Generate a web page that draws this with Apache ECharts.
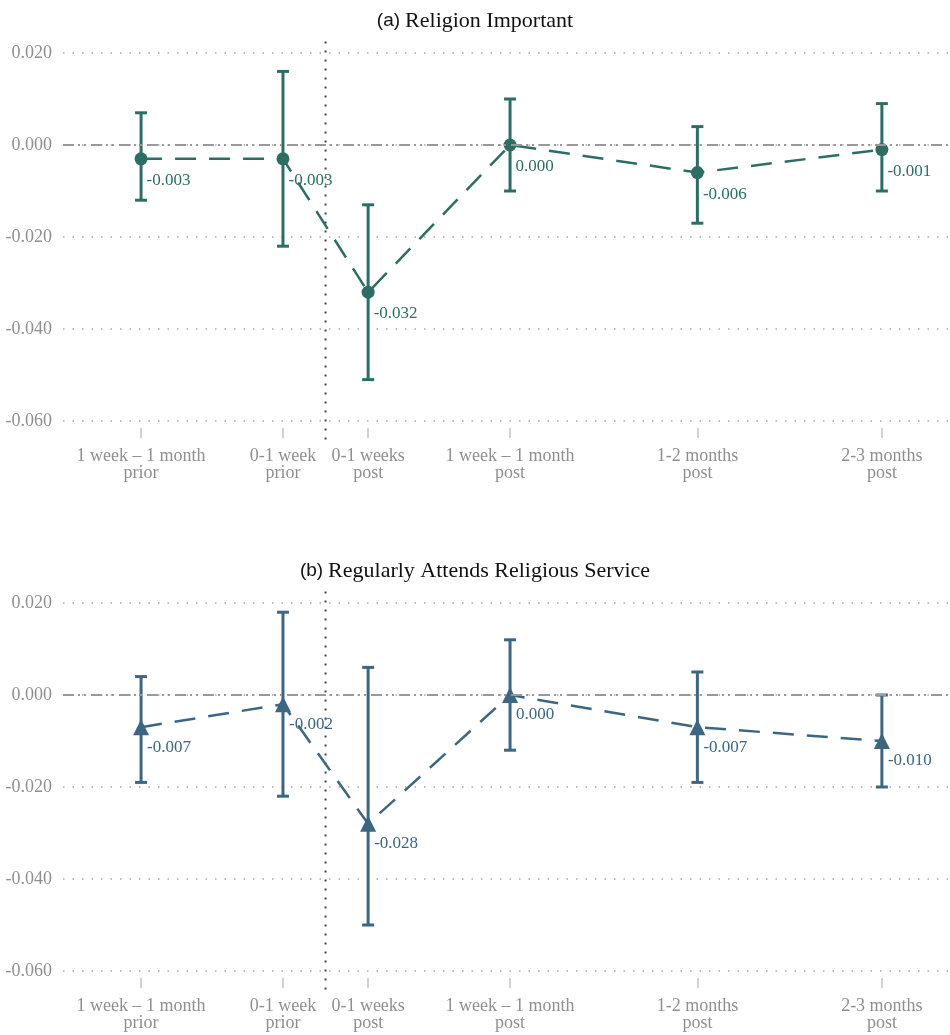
<!DOCTYPE html>
<html>
<head>
<meta charset="utf-8">
<script src="https://cdn.jsdelivr.net/npm/echarts@6/dist/echarts.min.js"></script>
<style>html,body{margin:0;padding:0;background:#fff;}#chart{width:950px;height:1035px;}</style>
</head>
<body>
<div id="chart"></div>
<script>
// ---- data ----
const categories = ['1 week \u2013 1 month\nprior', '0-1 week\nprior', '0-1 weeks\npost', '1 week \u2013 1 month\npost', '1-2 months\npost', '2-3 months\npost'];
const xPositions = [1, 2, 2.6, 3.6, 4.92, 6.22];
const eventLine = [[2.3, 0.0225, -0.0641]];
const yTicks = [-0.06, -0.04, -0.02, 0, 0.02];

const titleA = 'Religion Important';
const estA = [-0.003, -0.003, -0.032, 0.000, -0.006, -0.001];
const lowA = [-0.012, -0.022, -0.051, -0.010, -0.017, -0.010];
const highA = [0.007, 0.016, -0.013, 0.010, 0.004, 0.009];

const titleB = 'Regularly Attends Religious Service';
const estB = [-0.007, -0.002, -0.028, 0.000, -0.007, -0.010];
const lowB = [-0.019, -0.022, -0.050, -0.012, -0.019, -0.020];
const highB = [0.004, 0.018, 0.006, 0.012, 0.005, 0.000];

// ---- styling ----
const colA = '#2c6e64';
const colB = '#3c6682';
const grayTxt = '#8f8f8f';
const serif = '"Liberation Serif", "Times New Roman", serif';
const sans = '"Liberation Sans", Arial, sans-serif';

const chart = echarts.init(document.getElementById('chart'));

function makeErr(color) {
  return function (params, api) {
    const x = api.value(0), lo = api.value(1), hi = api.value(2);
    const pLo = api.coord([x, lo]), pHi = api.coord([x, hi]);
    const hw = 6;
    const style = { stroke: color, lineWidth: 3 };
    return {
      type: 'group', children: [
        { type: 'line', shape: { x1: pHi[0], y1: pHi[1], x2: pLo[0], y2: pLo[1] }, style: style },
        { type: 'line', shape: { x1: pHi[0] - hw, y1: pHi[1], x2: pHi[0] + hw, y2: pHi[1] }, style: style },
        { type: 'line', shape: { x1: pLo[0] - hw, y1: pLo[1], x2: pLo[0] + hw, y2: pLo[1] }, style: style }
      ]
    };
  };
}

function vlineRender(params, api) {
  const x = api.value(0);
  const p1 = api.coord([x, api.value(1)]), p2 = api.coord([x, api.value(2)]);
  return { type: 'line', shape: { x1: p1[0], y1: p1[1], x2: p2[0], y2: p2[1] },
    style: { stroke: '#444', lineWidth: 2, lineDash: [2, 7] } };
}

function xAxisCfg(gi) {
  return {
    gridIndex: gi, type: 'value', min: 0.45, max: 6.7,
    offset: 7,
    axisLine: { show: false, onZero: false },
    splitLine: { show: false },
    axisTick: { show: true, customValues: xPositions, length: 10, lineStyle: { color: '#c4c4c4', width: 1.5 } },
    axisLabel: {
      customValues: xPositions, margin: 20, color: grayTxt, fontFamily: serif, fontSize: 18, lineHeight: 17,
      formatter: function (v) {
        let best = 0;
        for (let i = 0; i < xPositions.length; i++) if (Math.abs(xPositions[i] - v) < Math.abs(xPositions[best] - v)) best = i;
        return categories[best];
      }
    }
  };
}

function yAxisCfg(gi) {
  return {
    gridIndex: gi, type: 'value', min: -0.06, max: 0.02, interval: 0.02,
    axisLine: { show: false }, axisTick: { show: false },
    axisLabel: { margin: 11, color: grayTxt, fontFamily: serif, fontSize: 18, formatter: v => v.toFixed(3) },
    splitLine: { show: true, lineStyle: { color: '#a8a8a8', width: 1.5, type: [1.5, 8] } }
  };
}

function panelSeries(gi, est, low, high, color, symbol, symSize, labelPos) {
  const pts = xPositions.map((x, i) => [x, est[i]]);
  const err = xPositions.map((x, i) => [x, low[i], high[i]]);
  return [
    {
      type: 'custom', xAxisIndex: gi, yAxisIndex: gi, z: 1, silent: true,
      renderItem: vlineRender, data: eventLine, clip: false,
      markLine: {
        silent: true, symbol: 'none',
        label: { show: false },
        data: [ { yAxis: 0, lineStyle: { color: '#999', width: 2, type: [11, 4, 2, 4, 2, 5] } } ]
      }
    },
    {
      type: 'custom', xAxisIndex: gi, yAxisIndex: gi, z: 3,
      renderItem: makeErr(color), data: err, clip: false
    },
    {
      type: 'line', xAxisIndex: gi, yAxisIndex: gi, z: 4,
      data: pts, symbol: symbol, symbolSize: symSize, showAllSymbol: true,
      itemStyle: { color: color },
      lineStyle: { color: color, width: 2.5, type: [21, 13] },
      label: {
        show: true, position: labelPos, align: 'left', verticalAlign: 'middle',
        color: color, fontFamily: serif, fontSize: 17,
        formatter: p => p.value[1].toFixed(3)
      }
    }
  ];
}

function titleCfg(top, tag, txt) {
  return {
    left: 'center', top: top,
    text: '{a|' + tag + '} {b|' + txt + '}',
    textStyle: { fontWeight: 'normal', rich: {
      a: { fontFamily: sans, fontSize: 19, color: '#111', fontWeight: 'normal' },
      b: { fontFamily: serif, fontSize: 22, color: '#111', fontWeight: 'normal' } } }
  };
}

const option = {
  animation: false,
  backgroundColor: '#fff',
  title: [titleCfg(5, '(a)', titleA), titleCfg(555, '(b)', titleB)],
  grid: [
    { left: 63, right: 0, top: 53, height: 368 },
    { left: 63, right: 0, top: 603, height: 368 }
  ],
  xAxis: [xAxisCfg(0), xAxisCfg(1)],
  yAxis: [yAxisCfg(0), yAxisCfg(1)],
  series: [].concat(
    panelSeries(0, estA, lowA, highA, colA, 'circle', 13, [12, 28]),
    panelSeries(1, estB, lowB, highB, colB, 'triangle', 16, [14, 28])
  )
};
chart.setOption(option);
</script>
</body>
</html>
